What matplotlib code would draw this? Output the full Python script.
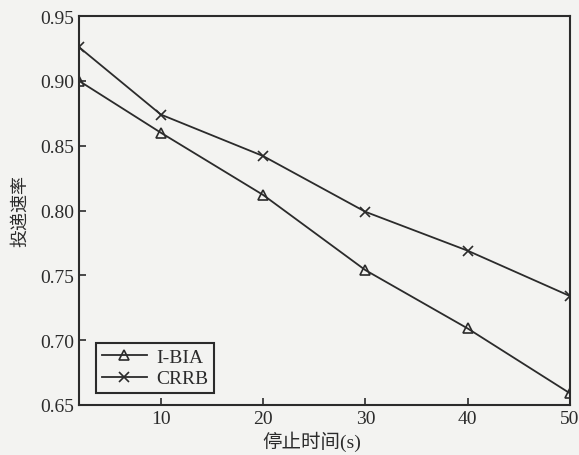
import matplotlib
matplotlib.use("Agg")
import matplotlib.pyplot as plt

# data
stop_time = [2, 10, 20, 30, 40, 50]
ibia = [0.900, 0.860, 0.812, 0.754, 0.709, 0.659]
crrb = [0.926, 0.874, 0.842, 0.799, 0.769, 0.734]
x_ticks = [10, 20, 30, 40, 50]
y_ticks = [0.65, 0.70, 0.75, 0.80, 0.85, 0.90, 0.95]

plt.rcParams["font.family"] = ["Liberation Serif", "Noto Sans CJK SC"]
plt.rcParams["axes.unicode_minus"] = False

bg = "#f3f3f1"
ink = "#2b2b2b"

fig = plt.figure(figsize=(5.79, 4.56), dpi=100, facecolor=bg)
ax = fig.add_axes([79 / 579, 50 / 456, 491 / 579, 389 / 456], facecolor=bg)

ax.plot(stop_time, ibia, color=ink, lw=1.3, marker="^", ms=7,
        mfc="none", mec=ink, mew=1.2, label="I-BIA")
ax.plot(stop_time, crrb, color=ink, lw=1.3, marker="x", ms=7,
        mec=ink, mew=1.2, label="CRRB")

ax.set_xlim(2, 50)
ax.set_ylim(0.65, 0.95)
ax.set_xticks(x_ticks)
ax.set_yticks(y_ticks)
ax.set_yticklabels([f"{v:.2f}" for v in y_ticks])
ax.tick_params(direction="in", length=5, width=1.2, colors=ink,
               labelsize=14, top=False, right=False)
for s in ax.spines.values():
    s.set_color(ink)
    s.set_linewidth(1.5)

ax.set_xlabel("停止时间(s)", fontsize=14, color=ink)
ax.xaxis.set_label_coords(0.475, -0.065)
ax.set_ylabel("投递速率", fontsize=13, color=ink, labelpad=8)

leg = ax.legend(loc="lower left", bbox_to_anchor=(0.035, 0.03), fontsize=14,
                frameon=True, fancybox=False, handlelength=2.3,
                borderpad=0.3, labelspacing=0.2, handletextpad=0.5,
                borderaxespad=0)
leg.get_frame().set_edgecolor(ink)
leg.get_frame().set_linewidth(1.5)
leg.get_frame().set_facecolor(bg)
leg.get_frame().set_alpha(1)
for t in leg.get_texts():
    t.set_color(ink)

fig.savefig("out.png", dpi=100, facecolor=bg)
